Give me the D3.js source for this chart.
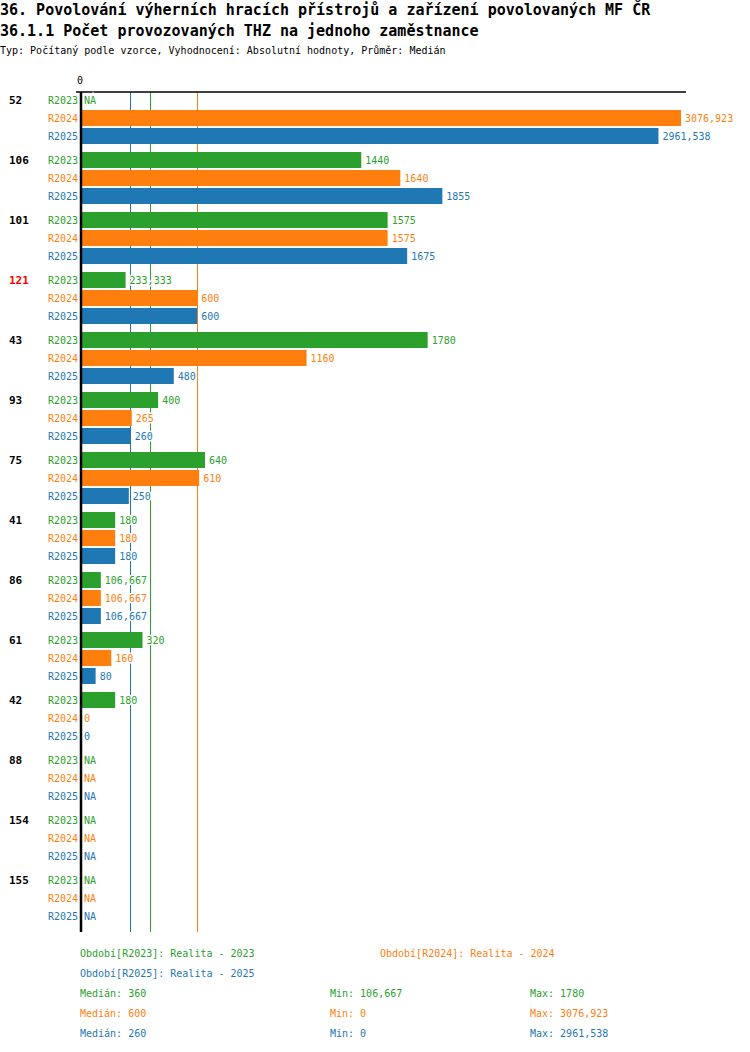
<!DOCTYPE html>
<html>
<head>
<meta charset="utf-8">
<script src="https://cdn.jsdelivr.net/npm/d3@7"></script>
<style>
  body { margin: 0; background: #fff; }
  text { font-family: "DejaVu Sans Mono", "Liberation Mono", monospace; }
</style>
</head>
<body>
<div id="chart"></div>
<script>
// chart data
var groups = ["52", "106", "101", "121", "43", "93", "75", "41", "86", "61", "42", "88", "154", "155"];
var series = ["R2023", "R2024", "R2025"];
var r2023 = [null, 1440, 1575, 233.333, 1780, 400, 640, 180, 106.667, 320, 180, null, null, null];
var r2024 = [3076.923, 1640, 1575, 600, 1160, 265, 610, 180, 106.667, 160, 0, null, null, null];
var r2025 = [2961.538, 1855, 1675, 600, 480, 260, 250, 180, 106.667, 80, 0, null, null, null];
var seriesNames = ["Realita - 2023", "Realita - 2024", "Realita - 2025"];
var highlighted = ["121"];

var colors = ["#2ca02c", "#ff7f0e", "#1f77b4"];
var values = [r2023, r2024, r2025];

var svgWidth = 750;
var svgHeight = 1052;

var svg = d3.select("#chart")
    .append("svg")
    .attr("width", svgWidth)
    .attr("height", svgHeight);

// number format with comma decimal
function fmt(v) {
    if (v === null) return "NA";
    if (Number.isInteger(v)) return String(v);
    return v.toFixed(3).replace(".", ",");
}

// titles
svg.append("text").attr("x", 0).attr("y", 15)
    .style("font-size", "15px").style("font-weight", "bold")
    .text("36. Povolov\u00e1n\u00ed v\u00fdhern\u00edch hrac\u00edch p\u0159\u00edstroj\u016f a za\u0159\u00edzen\u00ed povolovan\u00fdch MF \u010cR");
svg.append("text").attr("x", 0).attr("y", 36)
    .style("font-size", "15px").style("font-weight", "bold")
    .text("36.1.1 Po\u010det provozovan\u00fdch THZ na jednoho zam\u011bstnance");
svg.append("text").attr("x", 0).attr("y", 54)
    .style("font-size", "10px")
    .text("Typ: Po\u010d\u00edtan\u00fd podle vzorce, Vyhodnocen\u00ed: Absolutn\u00ed hodnoty, Pr\u016fm\u011br: Medi\u00e1n");

// scales
var maxVal = d3.max(values, s => d3.max(s));
var x = d3.scaleLinear()
    .domain([0, maxVal])
    .range([80, 681]);

var y = d3.scaleBand()
    .domain(groups)
    .range([91, 931]);

var yInner = d3.scaleBand()
    .domain(series)
    .range([0, 54]);

var chartTop = 92;
var chartBottom = 932;

// medians, min, max per series
var medians = values.map(s => d3.median(s.filter(v => v !== null)));
var mins = values.map(s => d3.min(s.filter(v => v !== null)));
var maxs = values.map(s => d3.max(s.filter(v => v !== null)));

// median lines (behind bars)
var lineOrder = [2, 0, 1];
lineOrder.forEach(function (i) {
    svg.append("line")
        .attr("x1", Math.floor(x(medians[i])) + 0.5)
        .attr("x2", Math.floor(x(medians[i])) + 0.5)
        .attr("y1", chartTop)
        .attr("y2", chartBottom)
        .attr("stroke", colors[i])
        .attr("stroke-width", 1);
});

// top axis
svg.append("line")
    .attr("x1", x(0) - 4)
    .attr("x2", x.range()[1] + 5)
    .attr("y1", chartTop)
    .attr("y2", chartTop)
    .attr("stroke", "#000")
    .attr("stroke-width", 1.5);
svg.append("text")
    .attr("x", x(0))
    .attr("y", 84)
    .attr("text-anchor", "middle")
    .style("font-size", "10px")
    .text("0");

// rows
var rows = [];
groups.forEach(function (g, gi) {
    series.forEach(function (s, si) {
        rows.push({ group: g, series: s, si: si, value: values[si][gi] });
    });
});

function cy(d) {
    return y(d.group) + yInner(d.series) + yInner.bandwidth() / 2;
}

// bars
svg.selectAll("rect.bar")
    .data(rows.filter(d => d.value !== null && d.value > 0))
    .enter()
    .append("rect")
    .attr("class", "bar")
    .attr("x", x(0))
    .attr("y", d => cy(d) - 8)
    .attr("width", d => x(d.value) - x(0))
    .attr("height", 16)
    .attr("fill", d => colors[d.si]);

// value labels with white halo
svg.selectAll("text.val")
    .data(rows)
    .enter()
    .append("text")
    .attr("class", "val")
    .attr("x", d => (d.value === null ? x(0) : x(d.value)) + 4)
    .attr("y", d => cy(d))
    .attr("dy", "0.35em")
    .style("font-size", "10px")
    .style("paint-order", "stroke")
    .attr("stroke", "#fff")
    .attr("stroke-width", 3)
    .attr("fill", d => colors[d.si])
    .text(d => fmt(d.value));

// series labels
svg.selectAll("text.ser")
    .data(rows)
    .enter()
    .append("text")
    .attr("class", "ser")
    .attr("x", 78)
    .attr("y", d => cy(d))
    .attr("dy", "0.35em")
    .attr("text-anchor", "end")
    .style("font-size", "10px")
    .attr("fill", d => colors[d.si])
    .text(d => d.series);

// group labels
svg.selectAll("text.grp")
    .data(groups)
    .enter()
    .append("text")
    .attr("class", "grp")
    .attr("x", 9)
    .attr("y", d => y(d) + yInner("R2023") + yInner.bandwidth() / 2)
    .attr("dy", "0.35em")
    .style("font-size", "11px")
    .style("font-weight", "bold")
    .attr("fill", d => highlighted.indexOf(d) >= 0 ? "#ff0000" : "#000")
    .text(d => d);

// vertical axis
svg.append("line")
    .attr("x1", 81)
    .attr("x2", 81)
    .attr("y1", chartTop)
    .attr("y2", chartBottom)
    .attr("stroke", "#000")
    .attr("stroke-width", 2.5);

// legend
var legendPos = [[80, 953], [380, 953], [80, 973]];
series.forEach(function (s, i) {
    svg.append("text")
        .attr("x", legendPos[i][0])
        .attr("y", legendPos[i][1])
        .attr("dy", "0.35em")
        .style("font-size", "10px")
        .attr("fill", colors[i])
        .text("Obdob\u00ed[" + s + "]: " + seriesNames[i]);
});

// summary stats
series.forEach(function (s, i) {
    var yy = 993 + i * 20;
    var stats = [
        [80, "Medi\u00e1n: " + fmt(medians[i])],
        [330, "Min: " + fmt(mins[i])],
        [530, "Max: " + fmt(maxs[i])]
    ];
    stats.forEach(function (st) {
        svg.append("text")
            .attr("x", st[0])
            .attr("y", yy)
            .attr("dy", "0.35em")
            .style("font-size", "10px")
            .attr("fill", colors[i])
            .text(st[1]);
    });
});
</script>
</body>
</html>
